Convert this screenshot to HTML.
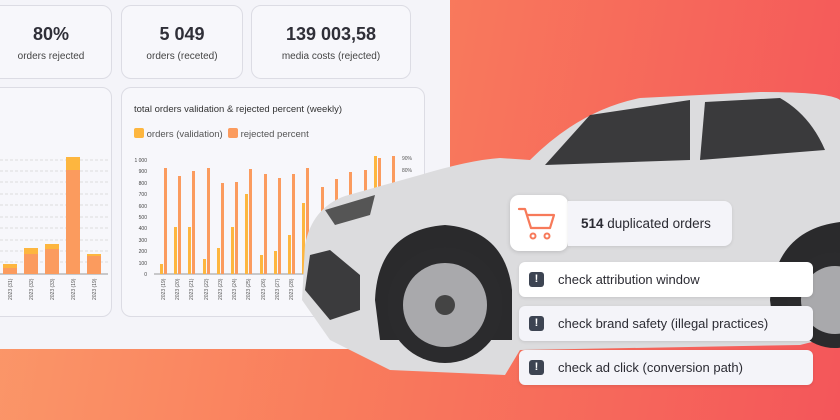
<!DOCTYPE html>
<html><head><meta charset="utf-8"><style>
*{margin:0;padding:0;box-sizing:border-box}
body{width:840px;height:420px;overflow:hidden;font-family:"Liberation Sans",sans-serif;background:linear-gradient(100deg,#fb9a6a 0%,#f97c5c 45%,#f4565a 100%);position:relative}
.panel{position:absolute;left:0;top:0;width:450px;height:349px;background:#f4f4f9}
.card{position:absolute;background:#f7f7fb;border:1px solid #dcdce4;border-radius:10px;text-align:center;color:#333}
.card b{display:block;font-size:18px;margin-top:18px;color:#2f2f38}
.card span{display:block;font-size:10px;margin-top:6px;color:#444}
.box{position:absolute;background:#fff;border-radius:6px;display:flex;align-items:center;font-size:13px;color:#2b2b33;box-shadow:0 1px 3px rgba(0,0,0,.1)}
.ex{width:15px;height:15px;background:#3d4452;border-radius:3px;color:#fff;font-weight:bold;font-size:11px;text-align:center;line-height:15px;margin:0 14px 0 10px}
</style></head><body>
<div class="panel"></div>
<div class="card" style="left:-10px;top:5px;width:122px;height:74px"><b>80%</b><span>orders rejected</span></div>
<div class="card" style="left:121px;top:5px;width:122px;height:74px"><b>5 049</b><span>orders (receted)</span></div>
<div class="card" style="left:251px;top:5px;width:160px;height:74px"><b>139 003,58</b><span>media costs (rejected)</span></div>
<div class="card" style="left:-10px;top:87px;width:122px;height:230px"></div>
<div class="card" style="left:121px;top:87px;width:304px;height:230px;text-align:left">
<div style="position:absolute;left:12px;top:16px;font-size:9.5px;color:#333">total orders validation &amp; rejected percent (weekly)</div>
<div style="position:absolute;left:12px;top:40px;font-size:9.5px;color:#555"><i style="display:inline-block;width:10px;height:10px;background:#fdb63f;border-radius:2px;vertical-align:-1px"></i> orders (validation) &nbsp;<i style="display:inline-block;width:10px;height:10px;background:#fb9b5e;border-radius:2px;vertical-align:-1px"></i> rejected percent</div>
</div>
<svg width="840" height="420" style="position:absolute;left:0;top:0" font-family="Liberation Sans" >
<g stroke="#ddd" stroke-dasharray="3,2">
<line x1="0" y1="160" x2="108" y2="160"/><line x1="0" y1="171" x2="108" y2="171"/><line x1="0" y1="182" x2="108" y2="182"/><line x1="0" y1="194" x2="108" y2="194"/><line x1="0" y1="205" x2="108" y2="205"/><line x1="0" y1="217" x2="108" y2="217"/><line x1="0" y1="228" x2="108" y2="228"/><line x1="0" y1="240" x2="108" y2="240"/><line x1="0" y1="251" x2="108" y2="251"/><line x1="0" y1="262" x2="108" y2="262"/></g>
<line x1="0" y1="274" x2="108" y2="274" stroke="#999"/>
<g fill="#fdb63f"><rect x="3" y="264" width="14" height="10"/><rect x="24" y="248" width="14" height="26"/><rect x="45" y="244" width="14" height="30"/><rect x="66" y="157" width="14" height="117"/><rect x="87" y="254" width="14" height="20"/></g>
<g fill="#fb9b5e"><rect x="3" y="268" width="14" height="6"/><rect x="24" y="254" width="14" height="20"/><rect x="45" y="249" width="14" height="25"/><rect x="66" y="170" width="14" height="104"/><rect x="87" y="256" width="14" height="18"/></g>
<g font-size="5" fill="#555"><text transform="translate(12,300) rotate(-90)">2023 (31)</text><text transform="translate(33,300) rotate(-90)">2023 (32)</text><text transform="translate(54,300) rotate(-90)">2023 (33)</text><text transform="translate(75,300) rotate(-90)">2023 (19)</text><text transform="translate(96,300) rotate(-90)">2023 (19)</text></g>
<g font-size="5" fill="#444" text-anchor="end">
<text x="147" y="162">1 000</text><text x="147" y="173">900</text><text x="147" y="185">800</text><text x="147" y="196">700</text><text x="147" y="208">600</text><text x="147" y="219">500</text><text x="147" y="230">400</text><text x="147" y="242">300</text><text x="147" y="253">200</text><text x="147" y="265">100</text><text x="147" y="276">0</text></g>
<text x="402" y="160" font-size="5" fill="#555">90%</text><text x="402" y="172" font-size="5" fill="#555">80%</text>
<line x1="154" y1="274" x2="320" y2="274" stroke="#999"/>
<g fill="#fdb63f">
<rect x="160" y="264" width="3" height="10"/><rect x="174" y="227" width="3" height="47"/><rect x="188" y="227" width="3" height="47"/><rect x="203" y="259" width="3" height="15"/><rect x="217" y="248" width="3" height="26"/><rect x="231" y="227" width="3" height="47"/><rect x="245" y="194" width="3" height="80"/><rect x="260" y="255" width="3" height="19"/><rect x="274" y="251" width="3" height="23"/><rect x="288" y="235" width="3" height="39"/><rect x="302" y="203" width="3" height="71"/><rect x="374" y="156" width="3" height="118"/></g>
<g fill="#fb9b5e">
<rect x="164" y="168" width="3" height="106"/><rect x="178" y="176" width="3" height="98"/><rect x="192" y="171" width="3" height="103"/><rect x="207" y="168" width="3" height="106"/><rect x="221" y="183" width="3" height="91"/><rect x="235" y="182" width="3" height="92"/><rect x="249" y="169" width="3" height="105"/><rect x="264" y="174" width="3" height="100"/><rect x="278" y="178" width="3" height="96"/><rect x="292" y="174" width="3" height="100"/><rect x="306" y="168" width="3" height="106"/><rect x="321" y="187" width="3" height="87"/><rect x="335" y="179" width="3" height="95"/><rect x="349" y="172" width="3" height="102"/><rect x="364" y="170" width="3" height="104"/><rect x="378" y="158" width="3" height="116"/><rect x="392" y="156" width="3" height="118"/></g>
<g font-size="5" fill="#555"><text transform="translate(165,300) rotate(-90)">2023 (19)</text><text transform="translate(179,300) rotate(-90)">2023 (20)</text><text transform="translate(193,300) rotate(-90)">2023 (21)</text><text transform="translate(208,300) rotate(-90)">2023 (22)</text><text transform="translate(222,300) rotate(-90)">2023 (23)</text><text transform="translate(236,300) rotate(-90)">2023 (24)</text><text transform="translate(250,300) rotate(-90)">2023 (25)</text><text transform="translate(265,300) rotate(-90)">2023 (26)</text><text transform="translate(279,300) rotate(-90)">2023 (27)</text><text transform="translate(293,300) rotate(-90)">2023 (28)</text></g>
<!-- car -->
<path d="M302,300 L305,245 Q312,208 345,196 L420,175 Q470,160 500,158 L530,160 Q580,110 640,98 L760,92 Q830,92 840,100 L840,335 L800,345 L520,350 L505,375 L390,370 L330,340 Z" fill="#dcdcde"/>
<path d="M545,165 L590,115 L690,100 L690,160 Z" fill="#3a3a3c"/>
<path d="M700,160 L705,102 L780,98 Q810,115 825,150 Z" fill="#3a3a3c"/>
<path d="M305,290 L310,255 L330,250 L360,275 L360,310 L330,320 Z" fill="#3b3b3d"/>
<path d="M325,210 L375,195 L370,215 L335,225 Z" fill="#555"/>
<path d="M375,300 Q378,230 445,225 Q505,230 512,290 L512,340 L380,340 Z" fill="#2a2a2c"/>
<circle cx="445" cy="305" r="58" fill="#2b2b2d"/><circle cx="445" cy="305" r="42" fill="#a9a9ac"/><circle cx="445" cy="305" r="10" fill="#444"/>
<path d="M770,300 Q775,230 840,222 L840,340 L775,340 Z" fill="#2a2a2c"/>
<circle cx="835" cy="300" r="48" fill="#2b2b2d"/><circle cx="835" cy="300" r="34" fill="#a9a9ac"/>
</svg>
<div style="position:absolute;left:510px;top:195px;width:58px;height:56px;background:#fff;border-radius:9px;box-shadow:0 1px 4px rgba(0,0,0,.15)">
<svg width="58" height="56"><path d="M9,14 L15,14 L21,33 L40,33 L44,20 L17,20" fill="none" stroke="#f77a5a" stroke-width="2.2" stroke-linejoin="round" stroke-linecap="round"/><circle cx="23" cy="41" r="2.5" fill="none" stroke="#f77a5a" stroke-width="2"/><circle cx="37" cy="41" r="2.5" fill="none" stroke="#f77a5a" stroke-width="2"/></svg></div>
<div class="box" style="left:568px;top:201px;width:164px;height:45px;background:#f4f4f9;border-radius:0 8px 8px 0;padding-left:13px;font-size:13.5px"><b>514</b>&nbsp;duplicated orders</div>
<div class="box" style="left:519px;top:262px;width:294px;height:35px"><div class="ex">!</div>check attribution window</div>
<div class="box" style="left:519px;top:306px;width:294px;height:35px;background:#f4f4f9"><div class="ex">!</div>check brand safety (illegal practices)</div>
<div class="box" style="left:519px;top:350px;width:294px;height:35px;background:#f4f4f9"><div class="ex">!</div>check ad click (conversion path)</div>
</body></html>
